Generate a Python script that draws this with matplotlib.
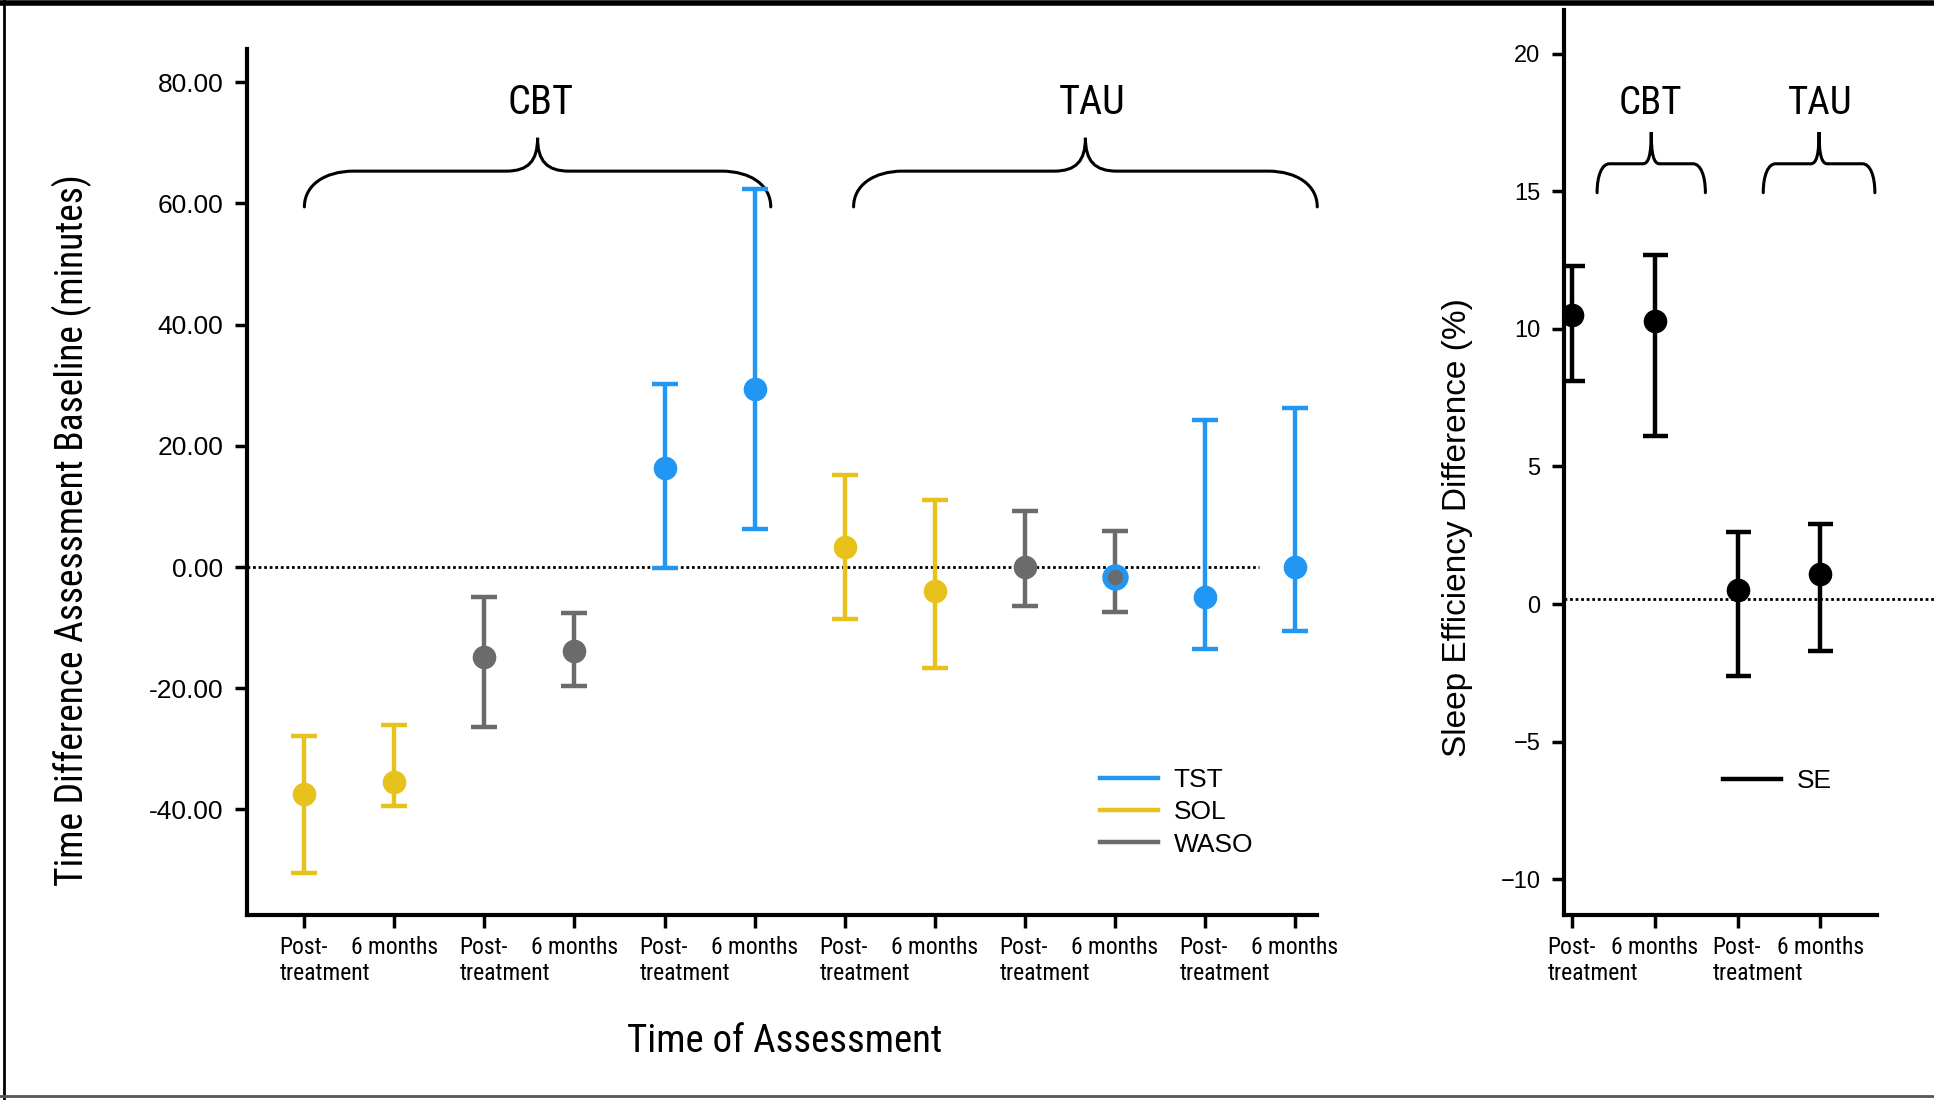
import matplotlib
matplotlib.use("Agg")
import matplotlib.pyplot as plt
from matplotlib import font_manager
from matplotlib.path import Path
from matplotlib.patches import PathPatch
from matplotlib.lines import Line2D
from matplotlib.transforms import ScaledTranslation

# data
x_labels = ['Post-\ntreatment', '6 months'] * 6

sol_x = [1, 2, 7, 8]
sol_mean = [-37.5, -35.5, 3.3, -4.0]
sol_low = [-50.5, -39.5, -8.5, -16.6]
sol_high = [-27.8, -26.0, 15.2, 11.0]

waso_x = [3, 4, 9, 10]
waso_mean = [-14.8, -13.8, 0.0, -1.7]
waso_low = [-26.4, -19.6, -6.5, -7.5]
waso_high = [-4.9, -7.6, 9.2, 6.0]

tst_x = [5, 6, 11, 12]
tst_mean = [16.3, 29.3, -4.9, 0.0]
tst_low = [-0.2, 6.3, -13.6, -10.6]
tst_high = [30.2, 62.3, 24.3, 26.3]

se_labels = ['Post-\ntreatment', '6 months'] * 2
se_x = [1, 2, 3, 4]
se_mean = [10.5, 10.3, 0.5, 1.1]
se_low = [8.1, 6.1, -2.6, -1.7]
se_high = [12.3, 12.7, 2.6, 2.9]
se_ref = 0.2

BLUE = '#2196f3'
YELLOW = '#e8c21c'
GRAY = '#6b6b6b'
plt.rcParams['font.family'] = ['Liberation Sans', 'DejaVu Sans']

# look for a condensed sans font, the original uses one for most labels
narrow_file = None
fonts = font_manager.fontManager.ttflist
for test in [lambda f: f.name == 'Liberation Sans Narrow',
             lambda f: f.name == 'Roboto Condensed',
             lambda f: 'Condensed' in f.name,
             lambda f: str(f.stretch) in ('condensed', 'semi-condensed', 'extra-condensed')]:
    hits = [f for f in fonts if test(f) and f.style == 'normal' and f.weight in (400, 'normal', 'regular')]
    if hits:
        narrow_file = hits[0].fname
        break


def nfont(size):
    if narrow_file:
        return font_manager.FontProperties(fname=narrow_file, size=size)
    return font_manager.FontProperties(family='DejaVu Sans', size=size * 0.82)


fig = plt.figure(figsize=(19.34, 11.0), dpi=100)
ax = fig.add_axes([0.1276, 0.1682, 0.5535, 0.787])
ax2 = fig.add_axes([0.8087, 0.1682, 0.162, 0.823])


def brace(a, x0, x1, ytip, ymid, ypeak, rx, cx):
    xc = (x0 + x1) / 2
    dy = ymid - ytip
    verts = [(x0, ytip), (x0, ytip + 0.6 * dy), (x0 + 0.4 * rx, ymid), (x0 + rx, ymid),
             (xc - cx, ymid),
             (xc - 0.3 * cx, ymid), (xc, ymid + 0.3 * (ypeak - ymid)), (xc, ypeak),
             (xc, ymid + 0.3 * (ypeak - ymid)), (xc + 0.3 * cx, ymid), (xc + cx, ymid),
             (x1 - rx, ymid),
             (x1 - 0.4 * rx, ymid), (x1, ytip + 0.6 * dy), (x1, ytip)]
    codes = [Path.MOVETO, Path.CURVE4, Path.CURVE4, Path.CURVE4, Path.LINETO,
             Path.CURVE4, Path.CURVE4, Path.CURVE4, Path.CURVE4, Path.CURVE4, Path.CURVE4,
             Path.LINETO, Path.CURVE4, Path.CURVE4, Path.CURVE4]
    a.add_patch(PathPatch(Path(verts, codes), fill=False, lw=2.2, color='black',
                          capstyle='round', clip_on=False))


def errs(mean, low, high):
    return [[m - l for m, l in zip(mean, low)], [h - m for m, h in zip(mean, high)]]


# ---- left panel
ax.plot([0.36, 11.6], [0, 0], color='black', lw=2, linestyle=(0, (1, 1)), zorder=1)
for xs, m, lo, hi, c in [(sol_x, sol_mean, sol_low, sol_high, YELLOW),
                         (waso_x, waso_mean, waso_low, waso_high, GRAY),
                         (tst_x, tst_mean, tst_low, tst_high, BLUE)]:
    ax.errorbar(xs, m, yerr=errs(m, lo, hi), fmt='o', color=c, ms=16, lw=3.2,
                capsize=9.5, capthick=3.2, zorder=3)
ax.plot(waso_x[3], waso_mean[3], 'o', ms=15, mfc=GRAY, mec=BLUE, mew=4, zorder=4)

ax.set_xlim(0.36, 12.25)
ax.set_ylim(-57.4, 85.4)
ax.set_xticks(range(1, 13))
ax.set_xticklabels(x_labels, fontproperties=nfont(17), va='top')
ax.set_yticks([-40, -20, 0, 20, 40, 60, 80])
ax.set_yticklabels([f'{v:.2f}' for v in [-40, -20, 0, 20, 40, 60, 80]], fontsize=19)
ax.set_ylabel('Time Difference Assessment Baseline (minutes)', fontproperties=nfont(27))
ax.yaxis.set_label_coords(-0.145, 0.444)
ax.set_xlabel('Time of Assessment', fontproperties=nfont(28))
ax.xaxis.set_label_coords(0.502, -0.125)

brace(ax, 1.0, 6.18, 59.4, 65.3, 70.8, 0.55, 0.35)
brace(ax, 7.1, 12.25, 59.4, 65.3, 70.8, 0.55, 0.35)
ax.text(3.62, 76.7, 'CBT', fontproperties=nfont(29), ha='center', va='center')
ax.text(9.75, 76.7, 'TAU', fontproperties=nfont(29), ha='center', va='center')

handles = [Line2D([], [], color=BLUE, lw=3.2), Line2D([], [], color=YELLOW, lw=3.2),
           Line2D([], [], color=GRAY, lw=3.2)]
ax.legend(handles, ['TST', 'SOL', 'WASO'], loc='upper left', bbox_to_anchor=(0.797, 0.170),
          frameon=False, fontsize=19, handlelength=2.2, handletextpad=0.6,
          labelspacing=0.32, borderpad=0, borderaxespad=0)

# ---- right panel
ax2.plot([0.9, 5.4], [se_ref, se_ref], color='black', lw=2, linestyle=(0, (1, 1)),
         zorder=1, clip_on=False)
ax2.errorbar(se_x, se_mean, yerr=errs(se_mean, se_low, se_high), fmt='o', color='black',
             ms=16, lw=3.2, capsize=9, capthick=3.2, zorder=3)
ax2.set_xlim(0.9, 4.69)
ax2.set_ylim(-11.3, 21.6)
ax2.set_xticks(se_x)
ax2.set_xticklabels(se_labels, fontproperties=nfont(17), va='top')
ax2.set_yticks([-10, -5, 0, 5, 10, 15, 20])
ax2.tick_params(axis='y', labelsize=17)
ax2.set_ylabel('Sleep Efficiency Difference (%)', fontsize=24)
ax2.yaxis.set_label_coords(-0.29, 0.428)
brace(ax2, 1.3, 2.61, 14.95, 16.0, 17.15, 0.15, 0.1)
brace(ax2, 3.31, 4.66, 14.95, 16.0, 17.15, 0.15, 0.1)
ax2.text(1.94, 18.2, 'CBT', fontproperties=nfont(28), ha='center', va='center')
ax2.text(4.0, 18.2, 'TAU', fontproperties=nfont(28), ha='center', va='center')
ax2.legend([Line2D([], [], color='black', lw=3.2)], ['SE'], loc='upper left',
           bbox_to_anchor=(0.508, 0.161), frameon=False, fontsize=19, handlelength=2.2,
           handletextpad=0.6, borderpad=0, borderaxespad=0)

for a in (ax, ax2):
    for s in ('top', 'right'):
        a.spines[s].set_visible(False)
    for s in ('left', 'bottom'):
        a.spines[s].set_linewidth(3)
    a.tick_params(width=2.5, length=9, direction='out', pad=8)
    a.tick_params(axis='x', pad=6)
    # post-treatment labels are left aligned, slightly left of the tick
    for lab in a.get_xticklabels():
        if lab.get_text().startswith('Post'):
            lab.set_ha('left')
            lab.set_transform(lab.get_transform() + ScaledTranslation(-0.25, 0, fig.dpi_scale_trans))

# frame round the figure
fig.add_artist(Line2D([0, 1], [0.997, 0.997], color='black', lw=4, transform=fig.transFigure))
fig.add_artist(Line2D([0.002, 0.002], [0, 1], color='black', lw=2, transform=fig.transFigure))
fig.add_artist(Line2D([0, 1], [0.004, 0.004], color='#555555', lw=2, transform=fig.transFigure))

fig.savefig('out.png', dpi=100)
